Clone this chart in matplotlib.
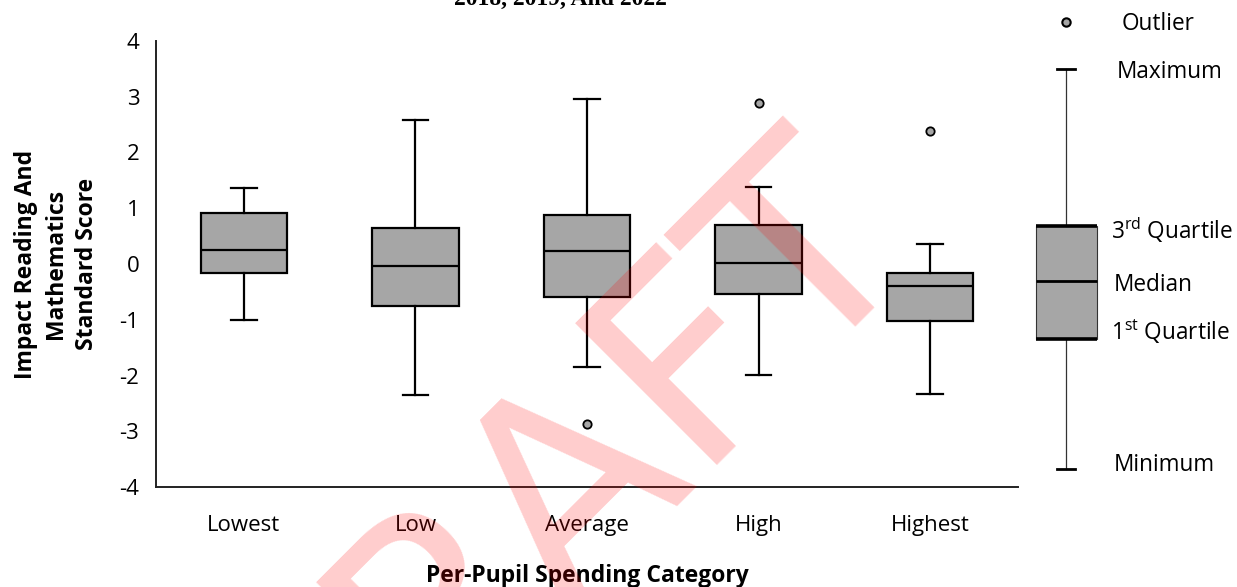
import matplotlib
matplotlib.use("Agg")
import matplotlib.pyplot as plt

plt.rcParams['font.family'] = ['Open Sans', 'DejaVu Sans']
plt.rcParams['mathtext.fontset'] = 'custom'
plt.rcParams['mathtext.rm'] = 'Open Sans'

# ---- data ----
categories = ["Lowest", "Low", "Average", "High", "Highest"]
whisker_low = [-1.00, -2.35, -1.85, -1.99, -2.33]
q1 = [-0.16, -0.75, -0.59, -0.53, -1.03]
median = [0.25, -0.03, 0.23, 0.02, -0.40]
q3 = [0.91, 0.64, 0.88, 0.70, -0.16]
whisker_high = [1.37, 2.58, 2.96, 1.39, 0.35]
outliers = [[], [], [-2.87], [2.89], [2.39]]
yticks = [-4, -3, -2, -1, 0, 1, 2, 3, 4]

title_text = "2018, 2019, And 2022"
xlabel = "Per-Pupil Spending Category"
ylabel = "Impact Reading And\nMathematics\nStandard Score"
watermark = "DRAFT"

# schematic legend (in its own pixel-like coordinate frame)
legend_labels = ["Outlier", "Maximum", "3$^{\\mathrm{rd}}$ Quartile", "Median",
                 "1$^{\\mathrm{st}}$ Quartile", "Minimum"]
legend_values = [22, 69, 226, 281, 339, 469]  # outlier, max, q3, median, q1, min
legend_label_y = [24, 72, 230, 285, 332, 465]
legend_label_x = [1122, 1117, 1111, 1114, 1111, 1114]

BOX_FACE = "#A6A6A6"

fig = plt.figure(figsize=(12.37, 5.87), dpi=100)
W, H = 1237, 587
ax = fig.add_axes([156 / W, (H - 487) / H, (1018 - 156) / W, (487 - 41) / H])

stats = []
for i, c in enumerate(categories):
    stats.append(dict(label=c, whislo=whisker_low[i], q1=q1[i], med=median[i],
                      q3=q3[i], whishi=whisker_high[i], fliers=outliers[i]))

positions = list(range(1, len(categories) + 1))
ax.bxp(stats, positions=positions, widths=0.505, patch_artist=True,
       showfliers=True,
       boxprops=dict(facecolor=BOX_FACE, edgecolor="black", linewidth=1.6),
       medianprops=dict(color="black", linewidth=1.6),
       whiskerprops=dict(color="black", linewidth=1.6),
       capprops=dict(color="black", linewidth=1.6),
       capwidths=0.146,
       flierprops=dict(marker="o", markerfacecolor=BOX_FACE, markeredgecolor="black",
                       markersize=6, markeredgewidth=1.3))

ax.set_xlim(0.487, 5.513)
ax.set_ylim(-4, 4)
ax.set_yticks(yticks)
ax.set_yticklabels([str(v) for v in yticks])
ax.set_xticks(positions)
ax.set_xticklabels(categories)
ax.tick_params(axis="both", length=0, labelsize=16, colors="black")
ax.tick_params(axis="x", pad=20)
ax.tick_params(axis="y", pad=12)
for s in ["top", "right"]:
    ax.spines[s].set_visible(False)
for s in ["left", "bottom"]:
    ax.spines[s].set_linewidth(1.4)
    ax.spines[s].set_color("#222222")

ax.set_xlabel(xlabel, fontsize=16.5, fontweight="bold", labelpad=20)
ax.set_ylabel(ylabel, fontsize=16.5, fontweight="bold", labelpad=15, linespacing=1.35)

# title (last line only visible at top)
fig.text(560 / W, 1 - 5 / H, title_text, ha="center", va="baseline",
         fontsize=17, fontweight="bold", family="Liberation Serif")

# ---- schematic legend ----
lax = fig.add_axes([0, 0, 1, 1], facecolor="none")
lax.set_xlim(0, W)
lax.set_ylim(H, 0)
lax.axis("off")
lstat = [dict(whislo=legend_values[5], q1=legend_values[4], med=legend_values[3],
              q3=legend_values[2], whishi=legend_values[1], fliers=[legend_values[0]])]
lax.bxp(lstat, positions=[1066], widths=61, patch_artist=True, showfliers=True,
        boxprops=dict(facecolor=BOX_FACE, edgecolor="#333333", linewidth=0.8),
        medianprops=dict(color="black", linewidth=2.0),
        whiskerprops=dict(color="#333333", linewidth=0.9),
        capprops=dict(color="black", linewidth=2.0),
        capwidths=18,
        flierprops=dict(marker="o", markerfacecolor=BOX_FACE, markeredgecolor="black",
                        markersize=6, markeredgewidth=1.5))
lax.hlines([legend_values[2], legend_values[4]], 1066 - 30.5, 1066 + 30.5,
           color="black", linewidth=2.6)
for lbl, yy, xv in zip(legend_labels, legend_label_y, legend_label_x):
    lax.text(xv, yy, lbl, ha="left", va="center", fontsize=16.3, color="black")

# ---- watermark ----
fig.text(600 / W, 1 - 556 / H, watermark, ha="center", va="baseline", rotation=45,
         rotation_mode="anchor", family="DejaVu Sans",
         fontsize=197, color="red", alpha=0.2, zorder=100)

fig.savefig("out.png", dpi=100)
